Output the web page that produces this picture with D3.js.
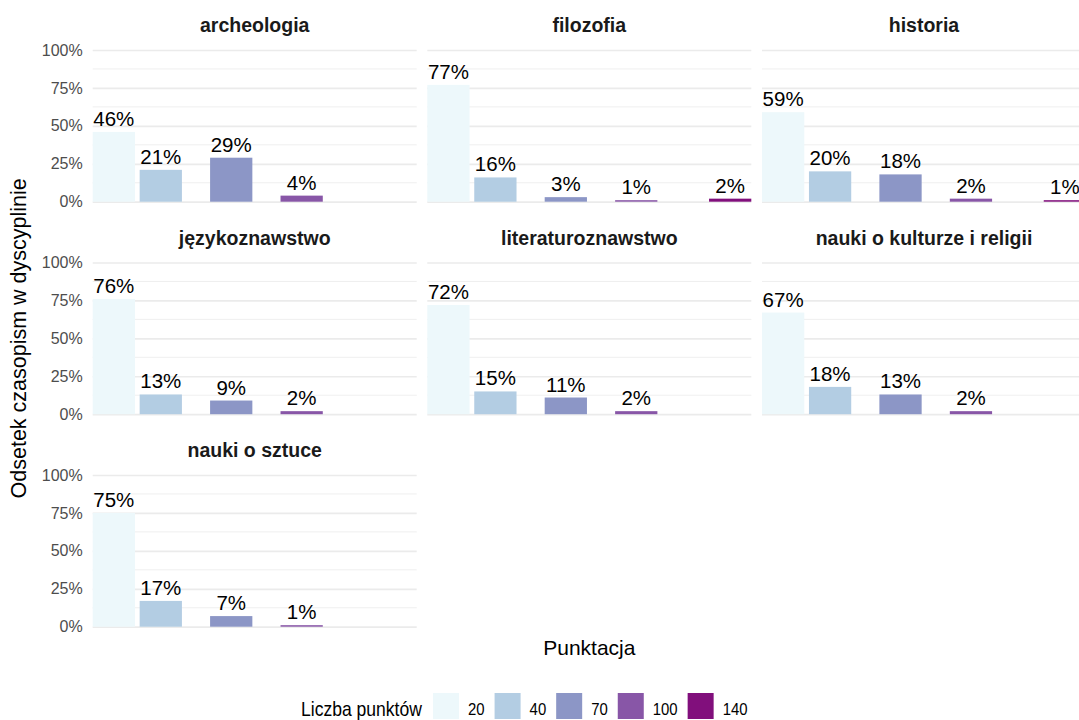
<!DOCTYPE html>
<html>
<head>
<meta charset="utf-8">
<script src="https://cdn.jsdelivr.net/npm/d3@7"></script>
<style>
  body { margin: 0; background: #fff; overflow: hidden; }
  text { font-family: "Liberation Sans", Arial, sans-serif; }
</style>
</head>
<body>
<div id="chartWrap"></div>
<script>
'use strict'

// data (percent of journals per discipline)
const points = [20, 40, 70, 100, 140];
const disciplines = ['archeologia', 'filozofia', 'historia', 'językoznawstwo',
    'literaturoznawstwo', 'nauki o kulturze i religii', 'nauki o sztuce'];
const shareArcheologia = [46, 21, 29, 4, null];
const shareFilozofia = [77, 16, 3, 1, 2];
const shareHistoria = [59, 20, 18, 2, 1];
const shareJezykoznawstwo = [76, 13, 9, 2, null];
const shareLiteraturoznawstwo = [72, 15, 11, 2, null];
const shareKultura = [67, 18, 13, 2, null];
const shareSztuka = [75, 17, 7, 1, null];
const yTicks = [0, 0.25, 0.5, 0.75, 1];
const yMinor = [0.125, 0.375, 0.625, 0.875];
const colors = ['#edf8fb', '#b3cde3', '#8c96c6', '#8856a7', '#810f7c'];

window.addEventListener('DOMContentLoaded', function() {
    const shares = [shareArcheologia, shareFilozofia, shareHistoria, shareJezykoznawstwo,
        shareLiteraturoznawstwo, shareKultura, shareSztuka];

    let svgWidth = 1079,
        svgHeight = 720,
        panelWidth = 324,
        panelHeight = 151.7,
        panelLeft = [92.7, 427.3, 762],
        panelTop = [50, 262.5, 475];

    const color = d3.scaleOrdinal(points, colors);

    const xScale = d3.scaleLinear()
        .domain([11, 149])
        .range([0, panelWidth]);
    const barWidth = xScale(18) - xScale(0);

    const yScale = d3.scaleLinear()
        .domain([0, 1])
        .range([panelHeight, 0]);

    let svg = d3.select('#chartWrap')
        .append('svg')
        .attr('width', svgWidth)
        .attr('height', svgHeight);

    disciplines.forEach((name, i) => {
        const col = i % 3, row = Math.floor(i / 3);
        const panel = svg.append('g')
            .attr('class', 'panel')
            .attr('transform', `translate(${panelLeft[col]}, ${panelTop[row]})`);

        // minor grid
        panel.append('g').selectAll('line')
            .data(yMinor)
            .join('line')
            .attr('x1', 0).attr('x2', panelWidth)
            .attr('y1', d => yScale(d)).attr('y2', d => yScale(d))
            .attr('stroke', '#ebebeb')
            .attr('stroke-width', 0.8);

        // major grid + tick labels on the first column
        const axis = d3.axisLeft(yScale)
            .tickValues(yTicks)
            .tickSize(-panelWidth)
            .tickPadding(10)
            .tickFormat(col === 0 ? d3.format('.0%') : '');
        panel.append('g')
            .attr('class', 'axis')
            .call(axis)
            .call(g => g.select('.domain').remove())
            .call(g => g.selectAll('.tick line').attr('stroke', '#ebebeb').attr('stroke-width', 1.7))
            .call(g => g.selectAll('.tick text')
                .attr('fill', '#4d4d4d')
                .attr('font-size', 16)
                .attr('font-family', '"Liberation Sans", Arial, sans-serif'));

        // strip title
        panel.append('text')
            .attr('x', panelWidth / 2)
            .attr('y', -18)
            .attr('text-anchor', 'middle')
            .attr('font-size', 19.5)
            .attr('font-weight', 'bold')
            .attr('fill', '#1a1a1a')
            .text(name);

        const rows = points.map((p, j) => ({ p, v: shares[i][j] }))
            .filter(d => d.v !== null);

        panel.append('g').selectAll('rect')
            .data(rows)
            .join('rect')
            .attr('x', d => xScale(d.p) - barWidth / 2)
            .attr('y', d => yScale(d.v / 100))
            .attr('width', barWidth)
            .attr('height', d => yScale(0) - yScale(d.v / 100))
            .attr('fill', d => color(d.p));

        panel.append('g').selectAll('text')
            .data(rows)
            .join('text')
            .attr('x', d => xScale(d.p))
            .attr('y', d => yScale(d.v / 100) - 6)
            .attr('text-anchor', 'middle')
            .attr('font-size', 20.5)
            .attr('fill', '#000')
            .text(d => d.v + '%');
    });

    // axis titles
    svg.append('text')
        .attr('transform', `translate(26, ${(panelTop[0] + panelTop[2] + panelHeight) / 2}) rotate(-90)`)
        .attr('text-anchor', 'middle')
        .attr('font-size', 21.5)
        .text('Odsetek czasopism w dyscyplinie');

    svg.append('text')
        .attr('x', (panelLeft[0] + panelLeft[2] + panelWidth) / 2)
        .attr('y', 655)
        .attr('text-anchor', 'middle')
        .attr('font-size', 21)
        .text('Punktacja');

    // legend - the original uses a narrower face, so squeeze the text horizontally
    const legend = svg.append('g').attr('class', 'legend');
    const legendTitle = legend.append('text')
        .attr('font-size', 20)
        .text('Liczba punktów');
    const squeeze = 121 / legendTitle.node().getComputedTextLength();
    legendTitle.attr('transform', `translate(301, 716) scale(${squeeze}, 1)`);

    let lx = 433;
    points.forEach(p => {
        legend.append('rect')
            .attr('x', lx).attr('y', 693)
            .attr('width', 26).attr('height', 26)
            .attr('fill', color(p));
        const t = legend.append('text')
            .attr('font-size', 17)
            .attr('transform', `translate(${lx + 35}, 715) scale(${squeeze}, 1)`)
            .text(p);
        lx += 35 + t.node().getComputedTextLength() * squeeze + 10;
    });
});
</script>
</body>
</html>
